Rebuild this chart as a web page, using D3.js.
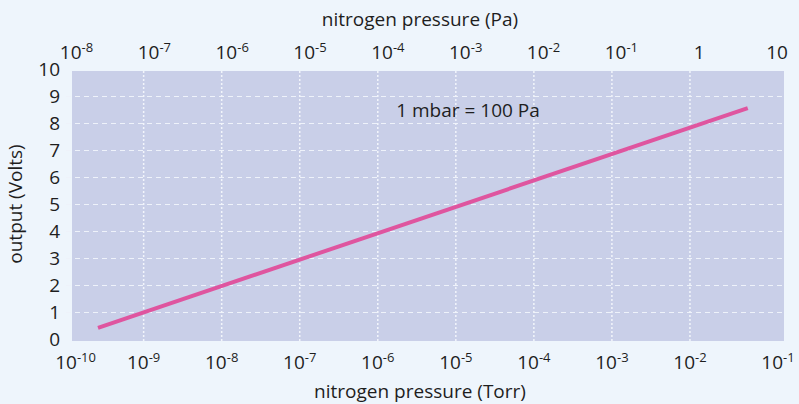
<!DOCTYPE html>
<html>
<head>
<meta charset="utf-8">
<script src="https://cdn.jsdelivr.net/npm/d3@7"></script>
<style>
  body { margin: 0; background: #eef5fc; }
  svg text { font-family: "Open Sans", "Noto Sans", sans-serif; fill: #1e1e1e; }
</style>
</head>
<body>
<div id="container"></div>
<script>
// data (straight line, ends only)
var pressureTorr = [2.6e-10, 5.5e-2];
var outputVolts  = [0.43, 8.57];
var torrTicks = [1e-10, 1e-9, 1e-8, 1e-7, 1e-6, 1e-5, 1e-4, 1e-3, 1e-2, 1e-1];
var paTicks   = [1e-8, 1e-7, 1e-6, 1e-5, 1e-4, 1e-3, 1e-2, 1e-1, 1, 10];
var voltTicks = [0, 1, 2, 3, 4, 5, 6, 7, 8, 9, 10];

var width = 799, height = 404;
var plot = {left: 72, right: 784, top: 71, bottom: 341};

var svg = d3.select("#container").append("svg")
    .attr("width", width)
    .attr("height", height);

svg.append("rect").attr("width", width).attr("height", height).attr("fill", "#eef5fc");

var x = d3.scaleLog().domain([1e-10, 1e-1]).range([65.6, 768]);
var xPa = d3.scaleLog().domain([1e-8, 10]).range([76.5, 777]);
var y = d3.scaleLinear().domain([0, 10]).range([339.5, 69.5]);

// plot area
svg.append("rect")
    .attr("x", plot.left).attr("y", plot.top)
    .attr("width", plot.right - plot.left).attr("height", plot.bottom - plot.top)
    .attr("fill", "#c9cfe8");

// horizontal grid (dashed)
svg.append("g").selectAll("line")
    .data(voltTicks.filter(function(d) { return d > 0 && d < 10; }))
    .enter().append("line")
    .attr("x1", plot.left - 6).attr("x2", plot.right)
    .attr("y1", function(d) { return y(d); }).attr("y2", function(d) { return y(d); })
    .attr("stroke", "#eef2fa").attr("stroke-width", 1.2)
    .attr("stroke-dasharray", "5,4");

// vertical grid (dotted)
svg.append("g").selectAll("line")
    .data(torrTicks.filter(function(d) { return x(d) > plot.left && x(d) < plot.right - 20; }))
    .enter().append("line")
    .attr("x1", function(d) { return x(d); }).attr("x2", function(d) { return x(d); })
    .attr("y1", plot.top).attr("y2", plot.bottom)
    .attr("stroke", "#f2f5fb").attr("stroke-width", 1.5)
    .attr("stroke-dasharray", "2,2");

function expLabel(sel, d) {
  var e = Math.round(Math.log10(d));
  if (e === 0) { sel.append("tspan").text("1"); return; }
  if (e === 1) { sel.append("tspan").text("10"); return; }
  sel.append("tspan").text("10");
  sel.append("tspan").attr("dy", -7).attr("font-size", 13).text(String(e));
}

// bottom tick labels (end labels sit a little to the right)
svg.append("g").selectAll("text")
    .data(torrTicks)
    .enter().append("text")
    .attr("x", function(d) { return x(d); })
    .attr("dx", function(d, i) { return (i === 0 || i === torrTicks.length - 1) ? 10 : 0; })
    .attr("y", 369)
    .attr("text-anchor", "middle")
    .attr("font-size", 19)
    .each(function(d) { expLabel(d3.select(this), d); });

// top tick labels
svg.append("g").selectAll("text")
    .data(paTicks)
    .enter().append("text")
    .attr("x", function(d) { return xPa(d); })
    .attr("y", 59)
    .attr("text-anchor", "middle")
    .attr("font-size", 19)
    .each(function(d) { expLabel(d3.select(this), d); });

// left tick labels
svg.append("g").selectAll("text")
    .data(voltTicks)
    .enter().append("text")
    .attr("x", 60)
    .attr("y", function(d) { return y(d); })
    .attr("dy", "0.36em")
    .attr("text-anchor", "end")
    .attr("font-size", 19)
    .text(function(d) { return d; });

// titles
svg.append("text")
    .attr("x", 420).attr("y", 398)
    .attr("text-anchor", "middle").attr("font-size", 19)
    .text("nitrogen pressure (Torr)");

svg.append("text")
    .attr("x", 420).attr("y", 26)
    .attr("text-anchor", "middle").attr("font-size", 19)
    .text("nitrogen pressure (Pa)");

svg.append("text")
    .attr("transform", "translate(22,204) rotate(-90)")
    .attr("text-anchor", "middle").attr("font-size", 19)
    .text("output (Volts)");

svg.append("text")
    .attr("x", 468).attr("y", 117)
    .attr("text-anchor", "middle").attr("font-size", 19)
    .text("1 mbar = 100 Pa");

// the curve
var line = d3.line()
    .x(function(d, i) { return x(pressureTorr[i]); })
    .y(function(d) { return y(d); });

svg.append("path")
    .datum(outputVolts)
    .attr("d", line)
    .attr("fill", "none")
    .attr("stroke", "#df559f")
    .attr("stroke-width", 4);
</script>
</body>
</html>
